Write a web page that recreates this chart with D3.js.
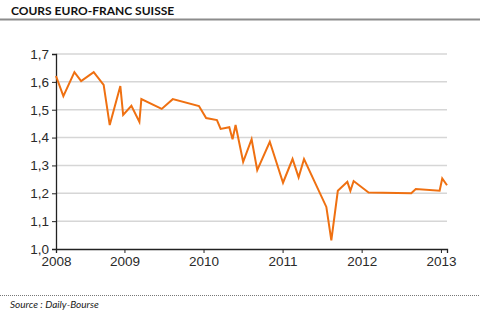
<!DOCTYPE html>
<html>
<head>
<meta charset="utf-8">
<script src="https://cdn.jsdelivr.net/npm/d3@7"></script>
<style>
  body { margin: 0; background: #fff; }
  svg { display: block; font-family: Lato, "Open Sans", sans-serif; }
</style>
</head>
<body>
<svg id="chart" width="480" height="321"></svg>
<script>
// EUR/CHF
const dates = ["2008-02-20", "2008-03-25", "2008-05-15", "2008-06-15", "2008-08-12", "2008-09-27",
  "2008-10-25", "2008-12-13", "2008-12-26", "2009-02-02", "2009-03-11", "2009-03-20",
  "2009-06-22", "2009-08-12", "2009-12-11", "2010-01-13", "2010-03-04", "2010-03-21",
  "2010-04-30", "2010-05-15", "2010-05-29", "2010-07-03", "2010-08-11", "2010-09-06",
  "2010-11-03", "2011-01-03", "2011-02-16", "2011-03-16", "2011-04-10", "2011-07-22",
  "2011-08-14", "2011-09-13", "2011-10-27", "2011-11-10", "2011-11-25", "2012-02-02",
  "2012-08-17", "2012-09-07", "2012-12-26", "2013-01-07", "2013-01-29"];
const rates = [1.621, 1.549, 1.635, 1.603, 1.635, 1.589,
  1.445, 1.585, 1.481, 1.514, 1.456, 1.538,
  1.503, 1.538, 1.513, 1.470, 1.463, 1.431,
  1.437, 1.394, 1.445, 1.313, 1.394, 1.283,
  1.385, 1.238, 1.323, 1.257, 1.323, 1.151,
  1.031, 1.209, 1.241, 1.209, 1.244, 1.203,
  1.200, 1.215, 1.209, 1.253, 1.229];
const yearTicks = ["2009-01-01", "2010-01-01", "2011-01-01", "2012-01-01", "2013-01-01"];
const yTicks = [1.0, 1.1, 1.2, 1.3, 1.4, 1.5, 1.6, 1.7];

const parse = d3.timeParse("%Y-%m-%d");
const data = dates.map((d, i) => ({date: parse(d), value: rates[i]}));

const svg = d3.select("#chart");
const margin = {left: 56, right: 33, top: 54, bottom: 72};
const width = 480 - margin.left - margin.right,
      height = 321 - margin.top - margin.bottom;

// title + rules
svg.append("text")
  .attr("x", 11).attr("y", 15)
  .style("font-size", "12px").style("font-weight", "bold")
  .attr("fill", "#111")
  .text("COURS EURO-FRANC SUISSE");
svg.append("line")
  .attr("x1", 0).attr("x2", 480).attr("y1", 19.5).attr("y2", 19.5)
  .attr("stroke", "#8c8c8c").attr("stroke-width", 2);
svg.append("line")
  .attr("x1", 0).attr("x2", 480).attr("y1", 295.5).attr("y2", 295.5)
  .attr("stroke", "#777").attr("stroke-width", 1).attr("stroke-dasharray", "1,1");
svg.append("text")
  .attr("x", 10).attr("y", 308)
  .style("font-size", "10px").style("font-style", "italic")
  .attr("fill", "#222")
  .text("Source : Daily-Bourse");

const g = svg.append("g").attr("transform", `translate(${margin.left},${margin.top})`);

const x = d3.scaleTime()
  .domain([data[0].date, data[data.length - 1].date])
  .range([0, width]);
const y = d3.scaleLinear().domain([1.0, 1.7]).range([height, 0]);

// grid
g.append("g")
  .selectAll("line")
  .data(yTicks.slice(1))
  .join("line")
  .attr("x1", 0).attr("x2", width)
  .attr("y1", d => y(d)).attr("y2", d => y(d))
  .attr("stroke", "#d6d6d6").attr("stroke-width", 1.5);

const fmt = d3.format(".1f");
const yAxis = g.append("g")
  .call(d3.axisLeft(y).tickValues(yTicks).tickSize(4).tickPadding(3)
    .tickFormat(d => fmt(d).replace(".", ",")));

const xTickDates = [data[0].date].concat(yearTicks.map(parse));
const xAxis = g.append("g")
  .attr("transform", `translate(0,${height})`)
  .call(d3.axisBottom(x).tickValues(xTickDates).tickSize(4).tickPadding(3)
    .tickFormat((d, i) => i === 0 ? "2008" : d3.timeFormat("%Y")(d)));

[xAxis, yAxis].forEach(a => {
  a.select(".domain").attr("stroke", "#222").attr("stroke-width", 1.3);
  a.selectAll(".tick line").attr("stroke", "#222");
  a.selectAll(".tick text").attr("fill", "#2a2a2a").style("font-size", "13.5px");
});
xAxis.select(".tick line").remove();

const line = d3.line().x(d => x(d.date)).y(d => y(d.value));
g.append("path")
  .datum(data)
  .attr("d", line)
  .attr("fill", "none")
  .attr("stroke", "#ef7011")
  .attr("stroke-width", 2)
  .attr("stroke-linejoin", "miter");
</script>
</body>
</html>
